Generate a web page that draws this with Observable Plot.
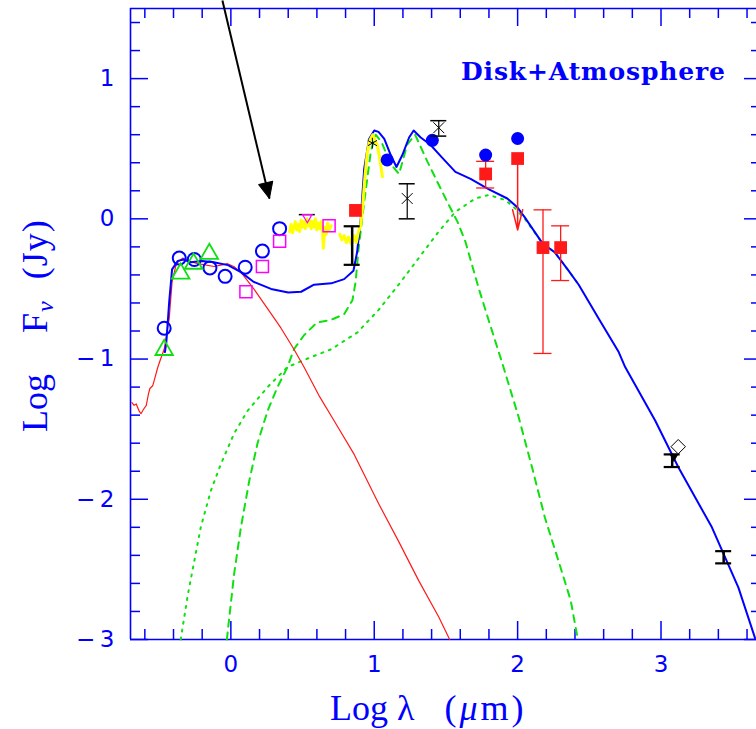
<!DOCTYPE html>
<html><head><meta charset="utf-8">
<script src="https://cdn.jsdelivr.net/npm/d3@7"></script>
<script src="https://cdn.jsdelivr.net/npm/@observablehq/plot@0.6"></script>
<style>
html,body{margin:0;padding:0;background:#fff;overflow:hidden}
#chart svg{display:block}
</style></head><body><div id="chart"></div>
<script>
// ---------- data (log lambda [um], log F_nu [Jy]) ----------
const totalModel = [[-0.46,-0.95],[-0.45,-0.88],[-0.43,-0.59],[-0.41,-0.36],[-0.37,-0.30],[-0.33,-0.29],[-0.28,-0.31],[-0.20,-0.30],[-0.12,-0.31],[-0.02,-0.33],[0.07,-0.38],[0.16,-0.45],[0.28,-0.50],[0.40,-0.525],[0.49,-0.52],[0.58,-0.47],[0.70,-0.46],[0.79,-0.43],[0.855,-0.37],[0.88,-0.24],[0.906,0.0],[0.93,0.36],[0.964,0.57],[1.0,0.63],[1.03,0.62],[1.07,0.57],[1.115,0.455],[1.155,0.37],[1.196,0.455],[1.243,0.58],[1.275,0.63],[1.324,0.58],[1.39,0.53],[1.47,0.44],[1.566,0.335],[1.672,0.285],[1.80,0.21],[1.928,0.145],[2.00,0.08],[2.05,0.01],[2.17,-0.17],[2.26,-0.24],[2.355,-0.37],[2.426,-0.47],[2.495,-0.59],[2.565,-0.71],[2.705,-0.95],[2.75,-1.057],[2.96,-1.44],[3.12,-1.77],[3.355,-2.2],[3.54,-2.63],[3.656,-2.99]];
const atmosphereModel = [[-0.69,-1.31],[-0.675,-1.33],[-0.66,-1.32],[-0.64,-1.37],[-0.627,-1.39],[-0.61,-1.36],[-0.59,-1.33],[-0.575,-1.25],[-0.565,-1.21],[-0.545,-1.19],[-0.534,-1.15],[-0.51,-1.06],[-0.49,-1.0],[-0.465,-0.93],[-0.43,-0.71],[-0.41,-0.45],[-0.385,-0.34],[-0.37,-0.31],[-0.336,-0.28],[-0.30,-0.30],[-0.23,-0.32],[-0.116,-0.34],[-0.07,-0.33],[-0.023,-0.32],[0.02,-0.34],[0.07,-0.38],[0.16,-0.50],[0.256,-0.64],[0.35,-0.78],[0.44,-0.93],[0.51,-1.057],[0.62,-1.27],[0.72,-1.44],[0.86,-1.68],[1.03,-2.03],[1.17,-2.3],[1.31,-2.58],[1.45,-2.84],[1.526,-3.0]];
const diskInner = [[-0.028,-3.0],[0.023,-2.53],[0.07,-2.2],[0.128,-1.87],[0.186,-1.6],[0.256,-1.37],[0.325,-1.2],[0.395,-1.057],[0.44,-0.93],[0.51,-0.83],[0.60,-0.74],[0.70,-0.72],[0.79,-0.68],[0.848,-0.58],[0.87,-0.45],[0.89,-0.22],[0.93,0.12],[0.976,0.48],[1.01,0.60],[1.05,0.55],[1.115,0.39],[1.173,0.32],[1.23,0.53],[1.285,0.60],[1.37,0.41],[1.44,0.264],[1.51,0.12],[1.58,-0.02],[1.635,-0.16],[1.73,-0.5],[1.80,-0.73],[1.89,-1.02],[2.006,-1.41],[2.1,-1.77],[2.19,-2.13],[2.285,-2.44],[2.37,-2.72],[2.42,-3.0]];
const diskOuter = [[-0.35,-3.0],[-0.30,-2.68],[-0.255,-2.44],[-0.21,-2.2],[-0.14,-1.94],[-0.07,-1.75],[0.023,-1.53],[0.116,-1.37],[0.256,-1.2],[0.395,-1.057],[0.55,-0.99],[0.70,-0.93],[0.883,-0.81],[1.03,-0.65],[1.17,-0.47],[1.31,-0.28],[1.45,-0.09],[1.566,0.05],[1.705,0.145],[1.80,0.17],[1.914,0.134],[1.984,0.074],[2.05,0.0],[2.17,-0.17],[2.26,-0.24],[2.355,-0.37],[2.426,-0.47]];
const spectrumA = [[0.41,-0.09],[0.42,-0.04],[0.43,-0.10],[0.44,-0.06],[0.45,-0.02],[0.46,-0.08],[0.47,-0.04],[0.48,-0.09],[0.49,-0.01],[0.50,-0.06],[0.51,-0.02],[0.52,-0.07],[0.53,0.0],[0.54,-0.05],[0.55,-0.01],[0.56,-0.07],[0.57,-0.02],[0.58,-0.06],[0.59,0.0],[0.60,-0.08],[0.61,-0.03],[0.62,-0.07],[0.63,-0.02],[0.64,-0.10],[0.645,-0.21],[0.655,-0.06],[0.665,-0.11],[0.675,-0.03],[0.685,-0.08],[0.70,-0.05]];
const spectrumB = [[0.76,-0.11],[0.775,-0.15],[0.79,-0.12],[0.805,-0.17],[0.82,-0.13],[0.84,-0.18],[0.86,-0.12],[0.875,-0.17],[0.89,-0.09],[0.905,-0.05],[0.92,0.10],[0.935,0.30],[0.95,0.46],[0.965,0.55],[0.98,0.58],[0.99,0.60],[1.0,0.57],[1.02,0.53],[1.035,0.45],[1.05,0.35],[1.057,0.30]];
const openCircles = [[-0.465,-0.78],[-0.36,-0.28],[-0.255,-0.29],[-0.146,-0.35],[-0.04,-0.41],[0.10,-0.345],[0.22,-0.23],[0.34,-0.07]];
const openTriangles = [[-0.465,-0.935],[-0.35,-0.39],[-0.26,-0.32],[-0.15,-0.25]];
const openSquares = [[0.105,-0.52],[0.22,-0.34],[0.34,-0.16],[0.685,-0.05]];
const smallTriangle = [[0.533,0.011]];
const redSquares = [[0.869,0.06],[1.777,0.32],[2.0,0.43],[2.177,-0.205],[2.30,-0.205]];
const redErrors = [{x:1.777,lo:0.22,hi:0.41},{x:2.177,lo:-0.96,hi:0.064},{x:2.30,lo:-0.44,hi:-0.05}];
const redLimit = [{x:2.0,from:0.43,to:-0.08}];
const blueDots = [[1.09,0.42],[1.405,0.56],[1.777,0.455],[2.0,0.573]];
const blackErrThick = [{x:0.846,lo:-0.328,hi:-0.053},{x:3.078,lo:-1.77,hi:-1.68},{x:3.437,lo:-2.457,hi:-2.37}];
const blackErrThin = [{x:1.23,lo:0.0,hi:0.25},{x:1.45,lo:0.59,hi:0.70}];
const blackCaps = [[0.533,0.03]];
const asterisks = [[0.987,0.54]];
const crosses = [[1.23,0.145],[1.45,0.65]];
const diamonds = [[3.12,-1.625]];
const blackTri = [[3.09,-1.695]];
const arrowLine = [{x1:-0.059,y1:1.557,x2:0.269,y2:0.145}];
const arrowTip = [[0.269,0.145]];
const xMajor = [0,1,2,3];
const yMajor = [-3,-2,-1,0,1];
const xMinor = d3.range(-6,37,2).map(v=>v/10).filter(v=>!xMajor.includes(v));
const yMinor = d3.range(-28,15,2).map(v=>v/10).filter(v=>!yMajor.includes(v));

// ---------- styles ----------
const BLUE="#0000ff", RED="#ff1a1a", GREEN="#10e010", MAGENTA="#ff00ff", YELLOW="#ffff00";
const W=756, H=729, mL=130, mR=0, mT=8, mB=90;
const pw=W-mL-mR, ph=H-mT-mB;
const xy = {x:d=>d[0], y:d=>d[1]};
const fmt = d => d<0 ? "\u2212\u2009"+(-d) : String(d);
const headShape = {draw(ctx,l){ctx.moveTo(0,-l);ctx.lineTo(-l*0.45,0);ctx.lineTo(l*0.45,0);ctx.closePath();}};
const caps = (data, stroke, sw, half) => [
  Plot.ruleY(data,{y:"lo",x1:"x",x2:"x",insetLeft:-half,insetRight:-half,stroke,strokeWidth:sw}),
  Plot.ruleY(data,{y:"hi",x1:"x",x2:"x",insetLeft:-half,insetRight:-half,stroke,strokeWidth:sw})
];

const plot = Plot.plot({
  width:W, height:H, marginLeft:mL, marginRight:mR, marginTop:mT, marginBottom:mB,
  x:{domain:[-0.7,3.666], label:null},
  y:{domain:[-3,1.5], label:null},
  style:{fontFamily:"DejaVu Sans", fontSize:"23px", color:BLUE, background:"white", overflow:"visible"},
  marks:[
    Plot.axisX({anchor:"bottom", ticks:xMajor, tickSize:0, tickPadding:16, fontSize:23, tickFormat:fmt}),
    Plot.axisY({anchor:"left", ticks:yMajor, tickSize:0, tickPadding:16, fontSize:23, tickFormat:fmt}),
    // frame
    Plot.ruleY([1.5,-3],{stroke:BLUE,strokeWidth:1.6}),
    Plot.ruleX([-0.7],{stroke:BLUE,strokeWidth:1.6}),
    // ticks
    Plot.ruleX(xMajor,{stroke:BLUE,strokeWidth:1.5,insetTop:ph-18}),
    Plot.ruleX(xMinor,{stroke:BLUE,strokeWidth:1.5,insetTop:ph-10}),
    Plot.ruleX(xMajor,{stroke:BLUE,strokeWidth:1.5,insetBottom:ph-18}),
    Plot.ruleX(xMinor,{stroke:BLUE,strokeWidth:1.5,insetBottom:ph-10}),
    Plot.ruleY(yMajor,{stroke:BLUE,strokeWidth:1.5,insetRight:pw-18}),
    Plot.ruleY(yMinor,{stroke:BLUE,strokeWidth:1.5,insetRight:pw-10}),
    Plot.ruleY(yMajor,{stroke:BLUE,strokeWidth:1.5,insetLeft:pw-12}),
    Plot.ruleY(yMinor,{stroke:BLUE,strokeWidth:1.5,insetLeft:pw-5}),
    // models
    Plot.line(diskOuter,{...xy,stroke:GREEN,strokeWidth:2,strokeDasharray:"2,6"}),
    Plot.line(diskInner,{...xy,stroke:GREEN,strokeWidth:2,strokeDasharray:"7,6"}),
    Plot.line(atmosphereModel,{...xy,stroke:RED,strokeWidth:1.2}),
    Plot.line(totalModel,{...xy,stroke:BLUE,strokeWidth:2}),
    // spectrum
    Plot.line(spectrumA,{...xy,stroke:YELLOW,strokeWidth:3}),
    Plot.line(spectrumB,{...xy,stroke:YELLOW,strokeWidth:3}),
    // photometry
    Plot.dot(openCircles,{...xy,r:6.5,stroke:BLUE,strokeWidth:2,fill:"none"}),
    Plot.dot(openTriangles,{...xy,symbol:"triangle",r:6.5,stroke:GREEN,strokeWidth:1.8,fill:"none"}),
    Plot.dot(openSquares,{...xy,symbol:"square",r:6.8,stroke:MAGENTA,strokeWidth:1.5,fill:"none"}),
    Plot.ruleY(blackCaps,{y:d=>d[1],x1:d=>d[0],x2:d=>d[0],insetLeft:-8,insetRight:-8,stroke:"black",strokeWidth:1.5}),
    Plot.dot(smallTriangle,{...xy,symbol:"triangle",rotate:180,r:3.5,stroke:MAGENTA,strokeWidth:1.2,fill:"none"}),
    Plot.ruleX(redErrors,{x:"x",y1:"lo",y2:"hi",stroke:RED,strokeWidth:1.3}),
    ...caps(redErrors,RED,1.3,9),
    Plot.arrow(redLimit,{x1:"x",y1:"from",x2:"x",y2:"to",stroke:RED,strokeWidth:1.5,headLength:21,headAngle:28}),
    Plot.dot(redSquares,{...xy,symbol:"square",r:7.2,fill:RED}),
    Plot.dot(blueDots,{...xy,r:6.5,fill:BLUE}),
    Plot.ruleX(blackErrThick,{x:"x",y1:"lo",y2:"hi",stroke:"black",strokeWidth:2.5}),
    ...caps(blackErrThick,"black",2.2,8),
    Plot.ruleX(blackErrThin,{x:"x",y1:"lo",y2:"hi",stroke:"black",strokeWidth:1.2}),
    ...caps(blackErrThin,"black",1.5,8),
    Plot.dot(asterisks,{...xy,symbol:"asterisk",r:5,stroke:"black",strokeWidth:1}),
    Plot.dot(crosses,{...xy,symbol:"times",r:5,stroke:"black",strokeWidth:1}),
    Plot.dot(diamonds,{...xy,symbol:"diamond2",r:6.5,stroke:"black",strokeWidth:1,fill:"white"}),
    Plot.dot(blackTri,{...xy,symbol:"triangle",rotate:180,r:3.5,fill:"black"}),
    // annotation arrow
    Plot.link(arrowLine,{x1:"x1",y1:"y1",x2:"x2",y2:"y2",stroke:"black",strokeWidth:2}),
    Plot.vector(arrowTip,{...xy,anchor:"end",length:16,rotate:166.6,shape:headShape,fill:"black",stroke:"black",strokeWidth:1})
  ]
});
document.getElementById("chart").appendChild(plot);

// ---------- text labels ----------
const svg = d3.select(plot);
svg.append("text").attr("x",461).attr("y",80).attr("text-anchor","start")
  .attr("font-family","DejaVu Serif").attr("font-weight","bold").attr("font-size",25)
  .attr("fill",BLUE).attr("textLength",264).attr("lengthAdjust","spacing")
  .text("Disk+Atmosphere");

const xl = svg.append("text").attr("x",330).attr("y",720).attr("text-anchor","start")
  .attr("font-family","Liberation Serif").attr("font-size",36).attr("fill",BLUE);
xl.append("tspan").text("Log");
xl.append("tspan").attr("dx",9).text("λ");
xl.append("tspan").attr("dx",30).attr("letter-spacing",3).text("(");
xl.append("tspan").attr("font-style","italic").attr("letter-spacing",3).text("μ");
xl.append("tspan").attr("letter-spacing",3).text("m)");

const yl = svg.append("text").attr("transform","translate(47,432) rotate(-90)").attr("text-anchor","start")
  .attr("font-family","Liberation Serif").attr("font-size",36).attr("fill",BLUE);
yl.append("tspan").text("Log");
yl.append("tspan").attr("dx",41).text("F");
yl.append("tspan").attr("font-size",24).attr("font-style","italic").attr("dy",6).attr("dx",1).text("ν");
yl.append("tspan").attr("dx",22).attr("dy",-6).attr("letter-spacing",1).text("(Jy)");
</script></body></html>
